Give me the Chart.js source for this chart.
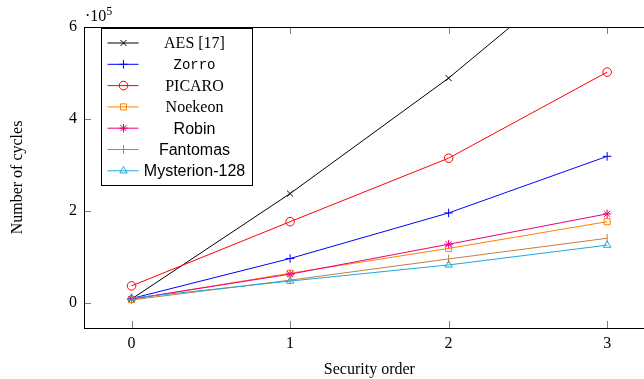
<!DOCTYPE html>
<html>
<head>
<meta charset="utf-8">
<script src="https://cdn.jsdelivr.net/npm/chart.js@4/dist/chart.umd.min.js"></script>
<style>
  html, body { margin: 0; padding: 0; overflow: hidden; background: #fff; }
  canvas { display: block; }
</style>
</head>
<body>
<canvas id="cycles" width="660" height="379"></canvas>
<script>
// security order on x, number of cycles on y
var orders = [0, 1, 2, 3];
var aes = [9000, 238000, 489000, 775000];
var zorro = [10000, 97000, 196000, 319000];
var picaro = [37500, 177000, 315000, 502000];
var noekeon = [8000, 65000, 119000, 177000];
var robin = [9000, 63000, 128000, 194000];
var fantomas = [7000, 50000, 96000, 141000];
var mysterion = [11000, 48000, 83000, 126000];
var xTicks = [0, 1, 2, 3];
var yTicks = [0, 200000, 400000, 600000];

var serif = '"Liberation Serif", "DejaVu Serif", serif';
var sans = '"Liberation Sans", "DejaVu Sans", sans-serif';
var mono = '"Liberation Mono", "DejaVu Sans Mono", monospace';

function pts(values) {
    return values.map(function (v, i) { return {x: orders[i], y: v}; });
}

function series(label, values, color, style, font, rot) {
    return {
        label: label,
        data: pts(values),
        borderColor: color,
        backgroundColor: color,
        borderWidth: 1,
        pointStyle: style,
        pointRotation: rot || 0,
        pointRadius: 4.3,
        pointBorderWidth: 1,
        pointBackgroundColor: 'rgba(0,0,0,0)',
        pointBorderColor: color,
        legendFont: font
    };
}

var datasets = [
    series('AES [17]', aes, '#000000', 'crossRot', serif),
    series('Zorro', zorro, '#0000ff', 'cross', mono),
    series('PICARO', picaro, '#ff0000', 'circle', serif),
    series('Noekeon', noekeon, '#ff8000', 'rect', serif),
    series('Robin', robin, '#e8007e', 'star', sans),
    series('Fantomas', fantomas, '#bf8040', 'line', sans, 90),
    series('Mysterion-128', mysterion, '#1ea7e1', 'triangle', sans)
];
// later series on top, like the original
datasets.forEach(function (d, i) { d.order = datasets.length - i; });

function drawMark(ctx, ds, x, y) {
    var opts = {
        pointStyle: ds.pointStyle, rotation: ds.pointRotation,
        radius: ds.pointRadius, borderWidth: 1
    };
    ctx.save();
    ctx.strokeStyle = ds.borderColor;
    ctx.fillStyle = 'rgba(0,0,0,0)';
    ctx.lineWidth = 1;
    Chart.helpers.drawPoint(ctx, opts, x, y);
    ctx.restore();
}

var frame = {
    id: 'frame',
    afterDraw: function (chart) {
        var ctx = chart.ctx, a = chart.chartArea;
        var xs = chart.scales.x, ys = chart.scales.y;
        ctx.save();
        // inner ticks
        ctx.strokeStyle = '#808080';
        ctx.lineWidth = 1;
        xTicks.forEach(function (t) {
            var px = Math.round(xs.getPixelForValue(t)) + 0.5;
            ctx.beginPath();
            ctx.moveTo(px, a.bottom); ctx.lineTo(px, a.bottom - 7);
            ctx.moveTo(px, a.top); ctx.lineTo(px, a.top + 7);
            ctx.stroke();
        });
        yTicks.forEach(function (t) {
            var py = Math.round(ys.getPixelForValue(t)) + 0.5;
            ctx.beginPath();
            ctx.moveTo(a.left, py); ctx.lineTo(a.left + 7, py);
            ctx.moveTo(a.right, py); ctx.lineTo(a.right - 7, py);
            ctx.stroke();
        });
        // axis box
        ctx.strokeStyle = '#000';
        ctx.strokeRect(Math.round(a.left) + 0.5, Math.round(a.top) + 0.5,
            Math.round(a.right - a.left), Math.round(a.bottom - a.top));
        // exponent
        ctx.fillStyle = '#000';
        ctx.textBaseline = 'alphabetic';
        ctx.textAlign = 'left';
        ctx.font = '16px ' + serif;
        ctx.fillText('\u00b710', a.left + 1, a.top - 6);
        var w = ctx.measureText('\u00b710').width;
        ctx.font = '12px ' + serif;
        ctx.fillText('5', a.left + 1 + w, a.top - 12);

        // legend box
        var bx = a.left + 17.5, by = a.top + 1.5, bw = 151, bh = 157;
        ctx.fillStyle = '#fff';
        ctx.fillRect(bx, by, bw, bh);
        ctx.strokeStyle = '#000';
        ctx.strokeRect(bx, by, bw, bh);
        chart.data.datasets.forEach(function (ds, i) {
            var y = by + 14.5 + i * 21.3;
            ctx.strokeStyle = ds.borderColor;
            ctx.lineWidth = 1;
            ctx.beginPath();
            ctx.moveTo(bx + 6, y); ctx.lineTo(bx + 37, y);
            ctx.stroke();
            drawMark(ctx, ds, bx + 22, y);
            ctx.fillStyle = '#000';
            ctx.textAlign = 'center';
            ctx.textBaseline = 'middle';
            ctx.font = (ds.legendFont === mono ? '14px ' : '16px ') + ds.legendFont;
            ctx.fillText(ds.label, bx + 93, y + 1);
        });
        ctx.restore();
    }
};

new Chart(document.getElementById('cycles'), {
    type: 'line',
    data: {datasets: datasets},
    plugins: [frame],
    options: {
        responsive: false,
        animation: false,
        devicePixelRatio: 1,
        layout: {padding: {left: 0, right: 5, top: 27, bottom: 0}},
        plugins: {legend: {display: false}, tooltip: {enabled: false}},
        scales: {
            x: {
                type: 'linear',
                min: -0.3,
                max: 3.3,
                afterBuildTicks: function (s) {
                    s.ticks = xTicks.map(function (v) { return {value: v}; });
                },
                afterFit: function (s) { s.height = 51; },
                grid: {display: false, drawTicks: false},
                border: {display: false},
                ticks: {color: '#000', font: {family: serif, size: 16}, padding: 6},
                title: {
                    display: true, text: 'Security order', color: '#000',
                    font: {family: serif, size: 16}, padding: {top: 0, bottom: 0}
                }
            },
            y: {
                min: -54000,
                max: 600000,
                afterBuildTicks: function (s) {
                    s.ticks = yTicks.map(function (v) { return {value: v}; });
                },
                afterFit: function (s) { s.width = 84; },
                grid: {display: false, drawTicks: false},
                border: {display: false},
                ticks: {
                    color: '#000', font: {family: serif, size: 16}, padding: 7,
                    callback: function (v) { return v / 100000; }
                },
                title: {
                    display: true, text: 'Number of cycles', color: '#000',
                    font: {family: serif, size: 16}, padding: {top: 8, bottom: 0}
                }
            }
        }
    }
});
</script>
</body>
</html>
